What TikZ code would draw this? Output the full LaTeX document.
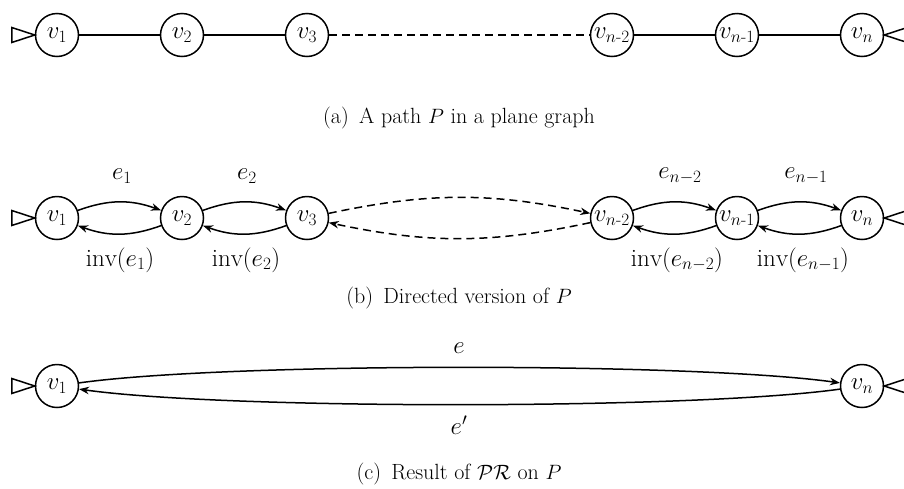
\documentclass[tikz,border=0pt]{standalone}
\usepackage{amsmath}
\usepackage{fontspec}
\usetikzlibrary{arrows.meta}
\begin{document}
\begin{tikzpicture}[x=1pt,y=-1pt,
  every node/.style={font=\fontsize{22}{26}\selectfont},
  vtx/.style={circle,draw,line width=1.5pt,minimum size=43pt,inner sep=0pt,font=\fontsize{25}{29}\selectfont},
  lbl/.style={font=\fontsize{25}{29}\selectfont},
  edg/.style={line width=1.5pt},
  arr/.style={line width=1.5pt,-{Stealth[length=10pt,width=7.5pt]}},
  dsh/.style={dash pattern=on 8pt off 5pt},
  tri/.style={line width=1.5pt}
]
\clip (0,0) rectangle (904,488);
% ---------- (a)
\node[vtx] (a1) at (57,35) {$v_1$};
\node[vtx] (a2) at (182,35) {$v_2$};
\node[vtx] (a3) at (307,35) {$v_3$};
\node[vtx] (a4) at (612,35) {$v_{n\text{-}2}$};
\node[vtx] (a5) at (737,35) {$v_{n\text{-}1}$};
\node[vtx] (a6) at (862,35) {$v_n$};
\draw[edg] (a1) -- (a2);
\draw[edg] (a2) -- (a3);
\draw[edg,dsh] (a3) -- (a4);
\draw[edg] (a4) -- (a5);
\draw[edg] (a5) -- (a6);
\draw[tri] (a1.west) -- ++(-23,-7.5) -- ++(0,15) -- cycle;
\draw[tri] (a6.east) -- ++(23,-7.5) -- ++(0,15) -- cycle;
\node (capa) at (459,118) {(a)\, A path $P$ in a plane graph};
% ---------- (b)
\node[vtx] (b1) at (57,218) {$v_1$};
\node[vtx] (b2) at (182,218) {$v_2$};
\node[vtx] (b3) at (307,218) {$v_3$};
\node[vtx] (b4) at (612,218) {$v_{n\text{-}2}$};
\node[vtx] (b5) at (737,218) {$v_{n\text{-}1}$};
\node[vtx] (b6) at (862,218) {$v_n$};
\draw[arr] (b1) to[bend left=20] (b2);
\draw[arr] (b2) to[bend left=20] (b1);
\draw[arr] (b2) to[bend left=20] (b3);
\draw[arr] (b3) to[bend left=20] (b2);
\draw[arr,dsh] (b3) to[bend left=12] (b4);
\draw[arr,dsh] (b4) to[bend left=12] (b3);
\draw[arr] (b4) to[bend left=20] (b5);
\draw[arr] (b5) to[bend left=20] (b4);
\draw[arr] (b5) to[bend left=20] (b6);
\draw[arr] (b6) to[bend left=20] (b5);
\draw[tri] (b1.west) -- ++(-23,-7.5) -- ++(0,15) -- cycle;
\draw[tri] (b6.east) -- ++(23,-7.5) -- ++(0,15) -- cycle;
\node[lbl] (l1) at (122,176) {$e_1$};
\node[lbl] (l2) at (247,176) {$e_2$};
\node[lbl] (l3) at (680,176) {$e_{n-2}$};
\node[lbl] (l4) at (806,176) {$e_{n-1}$};
\node[lbl] (m1) at (120,260) {$\mathrm{inv}(e_1)$};
\node[lbl] (m2) at (246,260) {$\mathrm{inv}(e_2)$};
\node[lbl] (m3) at (677,260) {$\mathrm{inv}(e_{n-2})$};
\node[lbl] (m4) at (803,260) {$\mathrm{inv}(e_{n-1})$};
\node (capb) at (459,298) {(b)\, Directed version of $P$};
% ---------- (c)
\node[vtx] (c1) at (57,386) {$v_1$};
\node[vtx] (c2) at (862,386) {$v_n$};
\draw[arr] (c1) to[out=8,in=172,looseness=0.5] (c2);
\draw[arr] (c2) to[out=188,in=-8,looseness=0.5] (c1);
\draw[tri] (c1.west) -- ++(-23,-7.5) -- ++(0,15) -- cycle;
\draw[tri] (c2.east) -- ++(23,-7.5) -- ++(0,15) -- cycle;
\node[lbl] (le) at (459,348) {$e$};
\node[lbl] (lf) at (459,425) {$e'$};
\node (capc) at (459,474) {(c)\, Result of $\mathcal{PR}$ on $P$};
\end{tikzpicture}
\end{document}
